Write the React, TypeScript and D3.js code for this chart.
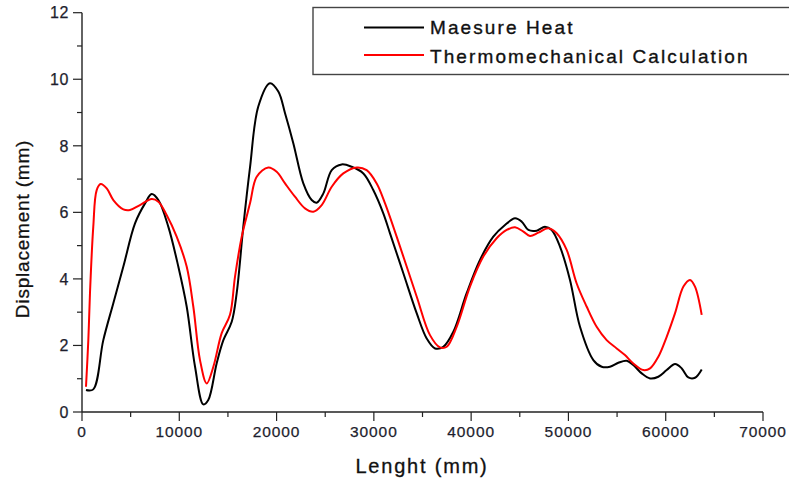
import React from "react";
import * as d3 from "d3";

// Measured displacement along the length (mm)
const measureX = [410, 1160, 2190, 3220, 4250, 5450, 6480, 7160, 7850, 8870, 9900, 10760, 11620, 12470, 12980, 13840, 14530, 15390, 15900, 16580, 17270, 18120, 19320, 20180, 20870, 21720, 22750, 23610, 24120, 24810, 25670, 26690, 27720, 28920, 29940, 30970, 31660, 33030, 34400, 35430, 36290, 37140, 38170, 39540, 40910, 42280, 43480, 44510, 45200, 45880, 46740, 47590, 48280, 49130, 50160, 51190, 52560, 53420, 54270, 55130, 55990, 56670, 57530, 58390, 59240, 60100, 60960, 61650, 62320, 63010, 63700];
const measureY = [0.66, 0.68, 2.16, 3.27, 4.37, 5.67, 6.27, 6.55, 6.37, 5.57, 4.37, 3.17, 1.36, 0.23, 0.36, 1.46, 2.16, 2.71, 3.57, 5.57, 7.35, 9.18, 9.88, 9.63, 8.98, 8.08, 6.87, 6.37, 6.29, 6.57, 7.27, 7.44, 7.37, 7.17, 6.67, 5.97, 5.37, 4.17, 2.97, 2.21, 1.91, 1.96, 2.41, 3.57, 4.57, 5.27, 5.62, 5.82, 5.72, 5.47, 5.45, 5.57, 5.47, 4.97, 3.97, 2.56, 1.56, 1.36, 1.36, 1.48, 1.54, 1.41, 1.16, 1.01, 1.06, 1.26, 1.44, 1.31, 1.04, 1.03, 1.28];

// Thermomechanical calculation
const calcX = [410, 650, 820, 1160, 1510, 1920, 2540, 3220, 4250, 4930, 5960, 7160, 7850, 8700, 9730, 10760, 11440, 12130, 12820, 13500, 14360, 15210, 15730, 16420, 17270, 17960, 19150, 20010, 20870, 21890, 22920, 23780, 24640, 25670, 26860, 28240, 29260, 30290, 31150, 32690, 34400, 35770, 36800, 37490, 38510, 39880, 41250, 42620, 43650, 44510, 45370, 46050, 46910, 47930, 48790, 49820, 50840, 51870, 52900, 53930, 54960, 55810, 56670, 57700, 58390, 59240, 60100, 60960, 61820, 62500, 63010, 63700];
const calcY = [0.76, 2.16, 3.57, 5.57, 6.67, 6.85, 6.72, 6.37, 6.09, 6.07, 6.22, 6.4, 6.32, 5.92, 5.27, 4.37, 3.17, 1.56, 0.86, 1.36, 2.37, 2.92, 4.07, 5.27, 6.27, 7.07, 7.35, 7.22, 6.87, 6.47, 6.12, 6.02, 6.22, 6.77, 7.17, 7.35, 7.27, 6.87, 6.27, 4.97, 3.47, 2.31, 1.94, 1.96, 2.56, 3.77, 4.67, 5.22, 5.47, 5.55, 5.42, 5.29, 5.39, 5.52, 5.37, 4.87, 3.87, 3.17, 2.56, 2.16, 1.91, 1.71, 1.46, 1.26, 1.31, 1.66, 2.26, 2.97, 3.77, 3.97, 3.77, 2.92];

const xMajor = [0, 10000, 20000, 30000, 40000, 50000, 60000, 70000];
const xMinor = [5000, 15000, 25000, 35000, 45000, 55000, 65000];
const yMajor = [0, 2, 4, 6, 8, 10, 12];
const yMinor = [1, 3, 5, 7, 9, 11];

const seriesNames = ["Maesure Heat", "Thermomechanical Calculation"];
const seriesColors = ["#000000", "#ff0000"];

const W = 789;
const H = 479;
const left = 82;
const right = 763;
const top = 12.7;
const bottom = 412;
const font = "Arial, 'Liberation Sans', sans-serif";
const axisColor = "#222";

export default function App() {
  const x = d3.scaleLinear().domain([0, 70000]).range([left, right]);
  const y = d3.scaleLinear().domain([0, 12]).range([bottom, top]);
  const line = d3
    .line<[number, number]>()
    .x((d) => x(d[0]))
    .y((d) => y(d[1]))
    .curve(d3.curveCatmullRom.alpha(0.5));

  const series = [
    measureX.map((v, i) => [v, measureY[i]] as [number, number]),
    calcX.map((v, i) => [v, calcY[i]] as [number, number]),
  ];

  return (
    <svg
      width={W}
      height={H}
      style={{ position: "absolute", left: 0, top: 0, background: "#fff" }}
      fontFamily={font}
    >
      <rect width={W} height={H} fill="#fff" />
      {/* axes */}
      <line x1={left} x2={left} y1={top} y2={bottom} stroke={axisColor} strokeWidth={1.4} />
      <line x1={left} x2={right} y1={bottom} y2={bottom} stroke={axisColor} strokeWidth={1.4} />
      {yMajor.map((t) => (
        <g key={"ym" + t}>
          <line x1={left - 9} x2={left} y1={y(t)} y2={y(t)} stroke={axisColor} strokeWidth={1.2} />
          <text
            x={left - 13}
            y={y(t)}
            dy="0.36em"
            textAnchor="end"
            fontSize={16}
            letterSpacing={0.6}
            fill="#1e1e2e"
            stroke="#1e1e2e"
            strokeWidth={0.25}
          >
            {t}
          </text>
        </g>
      ))}
      {yMinor.map((t) => (
        <line key={"yn" + t} x1={left - 5} x2={left} y1={y(t)} y2={y(t)} stroke={axisColor} strokeWidth={1.2} />
      ))}
      {xMajor.map((t) => (
        <g key={"xm" + t}>
          <line x1={x(t)} x2={x(t)} y1={bottom} y2={bottom + 9} stroke={axisColor} strokeWidth={1.2} />
          <text
            x={x(t)}
            y={437}
            textAnchor="middle"
            fontSize={15.5}
            letterSpacing={0.9}
            fill="#1e1e2e"
            stroke="#1e1e2e"
            strokeWidth={0.25}
          >
            {t}
          </text>
        </g>
      ))}
      {xMinor.map((t) => (
        <line key={"xn" + t} x1={x(t)} x2={x(t)} y1={bottom} y2={bottom + 5} stroke={axisColor} strokeWidth={1.2} />
      ))}
      <text x={422} y={473} textAnchor="middle" fontSize={20} letterSpacing={1.8} fill="#111" stroke="#111" strokeWidth={0.3}>
        Lenght (mm)
      </text>
      <text
        transform={`translate(29,${229}) rotate(-90)`}
        textAnchor="middle"
        fontSize={19}
        letterSpacing={0.8}
        fill="#111"
        stroke="#111"
        strokeWidth={0.3}
      >
        Displacement (mm)
      </text>

      {/* curves */}
      {series.map((s, i) => (
        <path key={i} d={line(s) || ""} fill="none" stroke={seriesColors[i]} strokeWidth={2} strokeLinejoin="round" />
      ))}

      {/* legend */}
      <rect x={313} y={7.5} width={500} height={67} fill="#fff" stroke="#444" strokeWidth={1.4} />
      {seriesNames.map((n, i) => (
        <g key={n}>
          <line x1={364} x2={424} y1={27.5 + i * 27.5} y2={27.5 + i * 27.5} stroke={seriesColors[i]} strokeWidth={2} />
          <text x={430} y={34 + i * 28.5} fontSize={19} letterSpacing={2.1} fill="#111" stroke="#111" strokeWidth={0.35}>
            {n}
          </text>
        </g>
      ))}
    </svg>
  );
}
